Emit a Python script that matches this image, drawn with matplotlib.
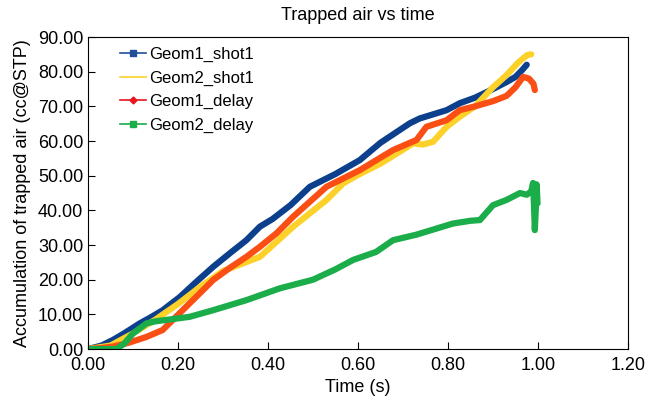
import matplotlib
matplotlib.use("Agg")
import numpy as np
from matplotlib import pyplot as plt
from matplotlib.lines import Line2D

plt.rcParams['font.family'] = ['Liberation Sans', 'DejaVu Sans']

# values
t_g1_shot = [0.00, 0.03, 0.055, 0.08, 0.115, 0.14, 0.166, 0.204, 0.24, 0.278, 0.315, 0.352,
             0.382, 0.41, 0.45, 0.493, 0.55, 0.604, 0.65, 0.715, 0.737, 0.797, 0.826, 0.86,
             0.90, 0.93, 0.95, 0.965, 0.975]
a_g1_shot = [0.0, 1.0, 2.6, 4.5, 7.4, 9.2, 11.2, 15.0, 19.3, 23.7, 27.6, 31.4,
             35.3, 37.5, 41.5, 46.8, 50.5, 54.5, 59.5, 65.1, 66.5, 68.9, 70.9, 72.5,
             75.0, 77.0, 78.5, 80.5, 82.0]

t_g2_shot = [0.00, 0.05, 0.10, 0.15, 0.20, 0.25, 0.30, 0.35, 0.382, 0.456, 0.53, 0.567,
             0.604, 0.65, 0.70, 0.722, 0.745, 0.767, 0.797, 0.826, 0.86, 0.90, 0.93, 0.955,
             0.976, 0.985]
a_g2_shot = [0.0, 1.0, 4.5, 8.5, 13.0, 18.0, 22.5, 25.0, 26.6, 35.3, 43.0, 47.8,
             50.5, 53.5, 57.5, 59.3, 59.0, 59.8, 64.1, 67.0, 70.0, 75.5, 79.0, 82.5,
             84.8, 85.0]

t_g1_delay = [0.00, 0.03, 0.055, 0.09, 0.13, 0.166, 0.204, 0.24, 0.278, 0.315, 0.352,
              0.382, 0.419, 0.456, 0.53, 0.604, 0.678, 0.73, 0.752, 0.797, 0.826, 0.86,
              0.90, 0.93, 0.95, 0.967, 0.98, 0.99, 0.993]
a_g1_delay = [0.0, 0.3, 0.7, 1.8, 3.5, 5.5, 10.4, 15.0, 19.9, 23.4, 26.6,
              29.5, 33.4, 38.2, 46.8, 51.6, 57.4, 60.3, 64.1, 66.0, 68.9, 70.0,
              71.5, 73.0, 75.5, 78.5, 78.0, 76.5, 74.7]

t_g2_delay = [0.00, 0.03, 0.063, 0.08, 0.10, 0.13, 0.15, 0.174, 0.226, 0.278, 0.352, 0.426,
              0.50, 0.55, 0.589, 0.64, 0.678, 0.73, 0.811, 0.85, 0.871, 0.90, 0.93, 0.96,
              0.975, 0.985, 0.989, 0.991, 0.993, 0.995, 0.997, 0.999]
a_g2_delay = [0.0, 0.0, 0.0, 1.5, 4.5, 7.4, 8.0, 8.4, 9.3, 11.2, 14.1, 17.5,
              20.0, 23.0, 25.7, 28.0, 31.4, 33.0, 36.2, 37.0, 37.2, 41.5, 43.0, 45.0,
              44.5, 45.5, 47.9, 42.0, 34.3, 40.0, 47.5, 42.0]

fig = plt.figure(figsize=(6.49, 3.98), dpi=100)
ax = fig.add_axes([0.1356, 0.123, 0.832, 0.784])

lw = 4.5
ax.plot(t_g1_shot, a_g1_shot, color='#0c3f8c', lw=lw, label='Geom1_shot1', solid_capstyle='round')
ax.plot(t_g2_shot, a_g2_shot, color='#fcd12a', lw=lw, label='Geom2_shot1', solid_capstyle='round')
ax.plot(t_g1_delay, a_g1_delay, color='#fb4e14', lw=lw, label='Geom1_delay', solid_capstyle='round')
ax.plot(t_g2_delay, a_g2_delay, color='#1aad4a', lw=lw, label='Geom2_delay', solid_capstyle='round')

xt = np.arange(0, 1.21, 0.2)
yt = np.arange(0, 91, 10)
ax.set_xlim(0, 1.2)
ax.set_ylim(0, 90)
ax.set_xticks(xt)
ax.set_yticks(yt)
ax.set_xticklabels(['%.2f' % v for v in xt])
ax.set_yticklabels(['%.2f' % v for v in yt])
ax.tick_params(direction='in', labelsize=13, length=5, top=False, right=False)
ax.tick_params(axis='x', pad=6)
ax.set_xlabel('Time (s)', fontsize=13, labelpad=3)
ax.set_ylabel('Accumulation of trapped air (cc@STP)', fontsize=13, labelpad=5)
ax.set_title('Trapped air vs time', fontsize=13, pad=12)

# legend handles: thin lines with small markers
handles = [
    Line2D([], [], color='#1f4e9c', lw=1.2, marker='s', markersize=4),
    Line2D([], [], color='#fcd12a', lw=1.2),
    Line2D([], [], color='#e8141e', lw=1.2, marker='D', markersize=3.5),
    Line2D([], [], color='#1aad4a', lw=1.2, marker='s', markersize=4),
]
ax.legend(handles, ['Geom1_shot1', 'Geom2_shot1', 'Geom1_delay', 'Geom2_delay'],
          loc='upper left', frameon=False, fontsize=12, handlelength=1.6,
          handletextpad=0.2, labelspacing=0.5, borderaxespad=0.2,
          bbox_to_anchor=(0.04, 1.0))

fig.savefig('out.png', dpi=100)
